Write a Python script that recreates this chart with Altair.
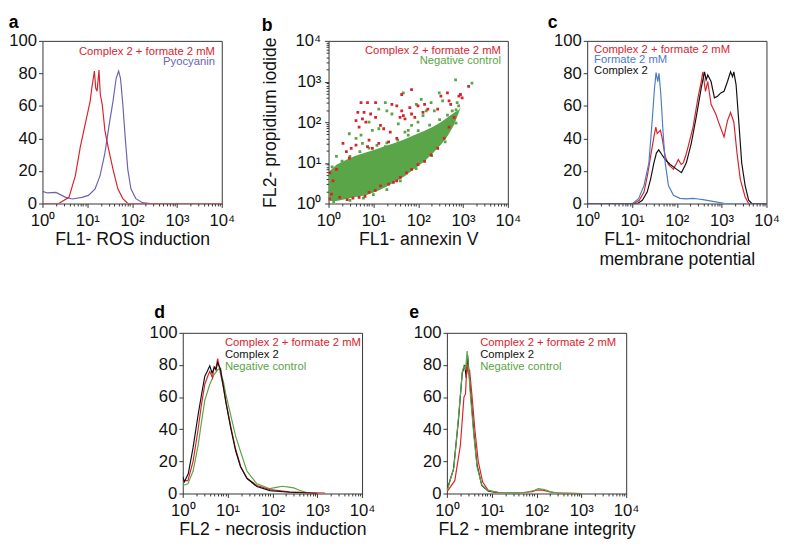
import json
import altair as alt
import pandas as pd

FONT = "Liberation Sans"
RED = "#d8232d"
GREEN = "#5aa547"
PURPLE = "#6c62b0"
BLUE = "#4a7cc6"
BLACK = "#111111"
FRAME = "#333333"

# ---------------- tick labels ----------------
DECADES = [1, 10, 100, 1000, 10000]
DECADE_LABELS = ["10⁰", "10¹", "10²", "10³", "10⁴"]
PCT_LABELS = [0, 20, 40, 60, 80, 100]

# ---------------- panel a ----------------
A_RED_X = [1, 2.3, 3.9, 5.4, 7.0, 9.0, 11.6, 12.6, 14.4, 15.4, 16.5, 18.2, 19.5, 21.5, 24.7, 29, 37.5, 48, 62, 80, 10000]
A_RED_Y = [0, 0, 3.8, 17, 35, 49, 63, 71, 81.5, 71, 69, 82, 67, 61, 45, 35, 21, 9, 3, 0, 0]
A_PYO_X = [1, 1.3, 2, 3.3, 4.6, 7.6, 10.6, 14.9, 19.2, 24.7, 31.8, 37.5, 44, 50, 55, 62, 70, 80, 94, 121, 170, 250]
A_PYO_Y = [7.5, 6.5, 6.8, 3.8, 2.8, 3.8, 5, 9, 17, 31, 51, 63, 77, 81.5, 77, 61, 41, 21, 9, 3, 0.5, 0]

# ---------------- panel b (scatter) ----------------
BAND_X = [1, 1.5, 2.5, 4, 6.8, 12, 18.5, 30, 50, 80, 139, 220, 320, 450, 630, 800, 880]
BAND_LO = [1.15, 1.15, 1.3, 1.45, 1.6, 2.0, 2.5, 3.4, 4.7, 7, 11, 18, 28, 45, 85, 170, 225]
BAND_HI = [6, 9, 12, 15, 18, 22, 26, 31, 38, 48, 62, 78, 100, 130, 170, 200, 230]

RED_PX = [5.3, 7.4, 11.2, 4.5, 6.2, 8.7, 5.7, 11.2, 4.1, 6.8, 4.8, 14.4, 17, 23.8, 25.9, 33.3, 42.9, 46.6, 39.4, 50.7,
          71, 42.9, 65, 99, 139, 128, 164, 71, 84, 272, 321, 449, 488, 531, 877, 955, 1336, 810,
          8, 7.4, 9.5, 13.2, 21.9, 33.3, 2.1, 2.5, 3.2, 4.1, 2.9, 1.5, 1.07, 1.26,
          1.16, 1.77, 4.8, 8, 14.4, 21.9, 33.3, 55, 71, 99, 139, 194, 272, 380, 488, 630,
          1.05, 2.6, 3.5, 6.5, 11, 28, 40]
RED_PY = [303, 303, 303, 174, 174, 159, 120, 132, 110, 100, 76, 83, 69, 57, 276, 252, 191, 145, 132, 120,
          635, 480, 229, 252, 276, 174, 209, 159, 132, 209, 437, 527, 333, 276, 480, 398, 760, 437,
          36, 25, 22.8, 30, 33, 40, 30, 19, 22.8, 27.4, 13.1, 6.9, 5.7, 3.6,
          1.71, 1.42, 1.42, 1.87, 2.7, 3.0, 3.6, 5.7, 6.9, 9.1, 10.9, 15.7, 22.8, 40, 76, 132,
          1.3, 1.25, 1.35, 1.5, 2.1, 3.3, 4.4]
GREEN_PX = [682, 1580, 18.5, 46.6, 117, 91, 194, 295, 350, 740, 800, 575, 229, 151, 128, 99, 71, 25.9, 13.2, 20,
            8, 13.2, 9.5, 5.3, 2.9, 1.5, 4.1, 18.5, 5.7, 50.7, 60, 36,
            1.2, 2, 3, 5, 8, 12, 20, 35, 60, 100, 180, 300, 450, 700,
            1.3, 3, 6, 10, 20, 40, 90, 200, 400, 700]
GREEN_PY = [1100, 915, 303, 527, 363, 276, 303, 527, 333, 303, 252, 191, 191, 191, 145, 100, 83, 159, 209, 191,
            100, 69, 63, 48, 52, 14.4, 40, 25, 30, 57, 63, 91,
            8, 11, 14.5, 19, 23, 27, 31, 36, 48, 62, 85, 115, 150, 200,
            1.08, 1.2, 1.35, 1.65, 2.2, 3.6, 7.2, 15, 33, 95]

# ---------------- panel c ----------------
C_BLUE_X = [1, 10.3, 14, 18.5, 23.8, 28.2, 31.8, 34.4, 37.5, 40, 44, 49, 55, 65, 84, 117, 160, 230, 300, 380, 740, 1200, 10000]
C_BLUE_Y = [0, 0, 3, 11, 25, 51, 71, 80.5, 75, 80, 67, 45, 25, 11, 5, 3.2, 2.8, 3.2, 2.8, 2.4, 1, 0, 0]
C_RED_X = [1, 11.2, 14.5, 18.5, 22, 26, 30.8, 34, 36.5, 39.5, 43, 46.5, 55, 65, 84, 108, 125, 139, 160, 179, 230, 296,
           350, 380, 435, 490, 580, 740, 880, 1130, 1350, 1580, 1870, 2200, 2600, 3340, 4000, 10000]
C_RED_Y = [0, 0, 2, 7, 17, 29, 41, 47, 43, 44, 45, 41, 29, 24, 21, 27, 24, 25, 30, 35, 47, 65,
           75, 81, 69, 75, 61, 55, 49, 41, 51, 56, 50, 31, 15, 4, 0, 0]
C_BLACK_X = [1, 13.3, 17, 21.8, 26, 30.8, 35, 39.5, 46.5, 55, 71, 100, 127, 163, 210, 270, 350, 415, 450, 490, 580,
             690, 810, 955, 1130, 1350, 1580, 1750, 1870, 2100, 2400, 2800, 3340, 4000, 4700, 10000]
C_BLACK_Y = [0, 0, 2, 7, 15, 25, 31, 33, 30, 27, 24, 21, 19, 25, 37, 53, 71, 81, 76, 79, 75,
             65, 66, 68, 69, 75, 81, 78, 81, 73, 51, 25, 11, 2, 0, 0]

# ---------------- panel d ----------------
D_BLACK_X = [1, 1.09, 1.33, 1.7, 2.2, 2.6, 3.1, 3.5, 4.0, 4.5, 5.1, 5.5, 6.0, 6.9, 7.8, 9.1, 11.7, 15.1, 19.5, 27.3, 45, 88, 240, 600, 1000]
D_BLACK_Y = [10.4, 7.3, 12.4, 28.7, 49, 61, 73, 76, 79.5, 75, 78.6, 77, 81.5, 77.4, 69, 57, 41, 26.6, 16.5, 9.3, 4.3, 1.8, 0.8, 0.3, 0]
D_RED_X = [1, 1.3, 1.7, 2.2, 2.6, 3.1, 3.6, 4.0, 4.6, 5.0, 5.5, 6.0, 6.4, 6.9, 7.8, 9.1, 11.7, 15, 19.5, 27, 45, 88, 240, 600, 1500]
D_RED_Y = [8, 8, 20, 40, 55, 68, 73, 76, 72, 79, 78, 84, 80, 75, 68, 58, 42, 28, 17, 9.5, 5, 2.5, 1, 0.5, 0.3]
D_GREEN_X = [1, 1.3, 1.7, 2.2, 2.6, 3.1, 4, 5, 6, 7, 7.5, 8, 9.1, 11.7, 15, 19.5, 27, 45, 88, 130, 170, 230, 300, 400, 600, 1000]
D_GREEN_Y = [5, 6, 14, 30, 44, 58, 68, 74, 77, 78, 72, 70, 62, 49, 36, 26, 14, 6, 3, 4, 4.5, 4, 3.5, 2, 0.5, 0]

# ---------------- panel e ----------------
E_GREEN_X = [1, 1.03, 1.44, 1.86, 2.2, 2.4, 2.6, 2.83, 3.08, 3.35, 3.97, 4.7, 6.0, 8.4, 13.9, 30, 60, 90, 110, 150, 200, 250, 400, 1000]
E_GREEN_Y = [2, 2.4, 16.5, 51, 75.6, 79.5, 77, 88.6, 75.6, 61, 36.8, 16.5, 5.3, 1.8, 0.8, 0.5, 0.8, 2, 3, 2.5, 1.2, 0.5, 0.3, 0]
E_BLACK_X = [1, 1.4, 1.8, 2.2, 2.5, 2.7, 2.9, 3.1, 3.4, 4, 4.7, 6, 8.4, 14]
E_BLACK_Y = [2, 15, 45, 75, 80, 72, 86, 76, 62, 38, 18, 5, 1.5, 0.5]
E_RED_X = [1, 1.5, 2, 2.4, 2.6, 2.8, 3.0, 3.2, 3.6, 4.2, 5, 6.3, 8.4, 14, 40, 80, 100, 130, 200, 300, 1000]
E_RED_Y = [1, 8, 30, 60, 62, 80, 75, 77, 62, 40, 20, 7, 2, 0.5, 0.3, 1.2, 2, 2.3, 1, 0.3, 0]

LEG_C2F = "Complex 2 + formate 2 mM"

# ---------------- axes helpers ----------------
LOG_TICKS = [m * d for d in DECADES[:-1] for m in range(1, 10)] + [DECADES[-1]]
IDX = f"indexof({json.dumps(DECADES)}, datum.value)"
LOG_LABEL_EXPR = f"{IDX} >= 0 ? {json.dumps(DECADE_LABELS, ensure_ascii=False)}[{IDX}] : ''"
LOG_TICKSIZE = {"condition": {"test": f"{IDX} >= 0", "value": 4}, "value": 2.5}

XLOG = alt.Scale(type="log", domain=[1, 10000], nice=False)
YPCT = alt.Scale(domain=[0, 100], nice=False, zero=True)


def x_axis(title):
    return alt.Axis(title=title, values=LOG_TICKS, labelExpr=LOG_LABEL_EXPR, tickSize=LOG_TICKSIZE,
                    labelOverlap=False, labelFlush=False, labelBound=False, labelPadding=5, titlePadding=3)


def y_pct_axis(min_extent=None):
    kw = {}
    if min_extent is not None:
        kw["minExtent"] = min_extent
    return alt.Axis(title=None, values=PCT_LABELS, tickSize=4, format="d",
                    labelOverlap=False, labelFlush=False, labelBound=False, labelPadding=2, **kw)


def legend_layers(items, anchor_x, align, dx, dys):
    layers = []
    for (label, color), dy in zip(items, dys):
        layers.append(
            alt.Chart(pd.DataFrame({"label": [label]}))
            .mark_text(align=align, baseline="middle", dx=dx, dy=dy, color=color, font=FONT, fontSize=11.5)
            .encode(x=alt.XDatum(anchor_x), y=alt.value(0), text="label:N")
        )
    return layers


def letter_title(letter, dx=0, dy=-2):
    return alt.TitleParams(letter, anchor="start", fontSize=18, fontWeight="bold", font=FONT,
                           offset=-5, dx=dx, dy=dy, color="#000")


def hist_panel(letter, series, xtitle, legend, anchor_x, align, dx, dys, height,
               min_extent=None, letter_dx=0, letter_dy=-2):
    layers = []
    for xs, ys, color in series:
        df = pd.DataFrame({"x": xs, "y": ys})
        layers.append(
            alt.Chart(df).mark_line(color=color, strokeWidth=1.2, clip=True).encode(
                x=alt.X("x:Q", scale=XLOG, axis=x_axis(xtitle)),
                y=alt.Y("y:Q", scale=YPCT, axis=y_pct_axis(min_extent)),
            )
        )
    layers += legend_layers(legend, anchor_x, align, dx, dys)
    return alt.layer(*layers).properties(width=183, height=height,
                                         title=letter_title(letter, letter_dx, letter_dy))


panel_a = hist_panel(
    "a",
    [(A_PYO_X, A_PYO_Y, PURPLE), (A_RED_X, A_RED_Y, RED)],
    "FL1- ROS induction",
    [(LEG_C2F, RED), ("Pyocyanin", PURPLE)],
    10000, "right", -7, [11, 21.5], 166, letter_dy=-5,
)

panel_c = hist_panel(
    "c",
    [(C_RED_X, C_RED_Y, RED), (C_BLACK_X, C_BLACK_Y, BLACK), (C_BLUE_X, C_BLUE_Y, BLUE)],
    ["FL1- mitochondrial", "membrane potential"],
    [(LEG_C2F, RED), ("Formate 2 mM", BLUE), ("Complex 2", BLACK)],
    1, "left", 7, [9, 20, 31], 166, letter_dx=-6, letter_dy=-5,
)

panel_d = hist_panel(
    "d",
    [(D_GREEN_X, D_GREEN_Y, GREEN), (D_RED_X, D_RED_Y, RED), (D_BLACK_X, D_BLACK_Y, BLACK)],
    "FL2 - necrosis induction",
    [(LEG_C2F, RED), ("Complex 2", BLACK), ("Negative control", GREEN)],
    1, "left", 43, [10, 22.5, 35], 164, min_extent=107, letter_dx=78, letter_dy=-7,
)

panel_e = hist_panel(
    "e",
    [(E_BLACK_X, E_BLACK_Y, BLACK), (E_RED_X, E_RED_Y, RED), (E_GREEN_X, E_GREEN_Y, GREEN)],
    "FL2 - membrane integrity",
    [(LEG_C2F, RED), ("Complex 2", BLACK), ("Negative control", GREEN)],
    1, "left", 34, [10, 22.5, 35], 164, letter_dx=-4, letter_dy=-7,
)

# ---------------- panel b ----------------
YLOG = alt.Scale(type="log", domain=[1, 10000], nice=False)
y_log_axis = alt.Axis(title="FL2- propidium iodide", values=LOG_TICKS, labelExpr=LOG_LABEL_EXPR,
                      tickSize=LOG_TICKSIZE, labelOverlap=False, labelFlush=False, labelBound=False,
                      labelPadding=4, titlePadding=16)

band = alt.Chart(pd.DataFrame({"x": BAND_X, "lo": BAND_LO, "hi": BAND_HI})).mark_area(
    color=GREEN, opacity=1, clip=True
).encode(
    x=alt.X("x:Q", scale=XLOG, axis=x_axis("FL1- annexin V")),
    y=alt.Y("lo:Q", scale=YLOG, axis=y_log_axis),
    y2="hi:Q",
)
green_pts = alt.Chart(pd.DataFrame({"x": GREEN_PX, "y": GREEN_PY})).mark_square(
    color=GREEN, size=8, opacity=1, clip=True
).encode(x="x:Q", y="y:Q")
red_pts = alt.Chart(pd.DataFrame({"x": RED_PX, "y": RED_PY})).mark_square(
    color=RED, size=8, opacity=1, clip=True
).encode(x="x:Q", y="y:Q")

b_leg = legend_layers([(LEG_C2F, RED), ("Negative control", GREEN)], 10000, "right", -7, [10, 21])

panel_b = alt.layer(band, green_pts, red_pts, *b_leg).properties(
    width=183, height=166, title=letter_title("b"),
)

row1 = alt.hconcat(panel_a, panel_b, panel_c, spacing=26)
row2 = alt.hconcat(panel_d, panel_e, spacing=33.6)

chart = (
    alt.vconcat(row1, row2, spacing=35, center=True)
    .properties(padding={"left": 0, "top": 0, "right": 0, "bottom": 0})
    .configure_view(stroke=FRAME, strokeWidth=1)
    .configure_axis(
        labelFont=FONT, titleFont=FONT, labelFontSize=17, titleFontSize=18, titleFontWeight="normal",
        labelColor="#111", titleColor="#111", tickColor=FRAME, domain=False, grid=False,
        labelFlush=False, labelOverlap=False,
    )
)

chart.save("out.html", embed_options={"renderer": "svg", "actions": False})
